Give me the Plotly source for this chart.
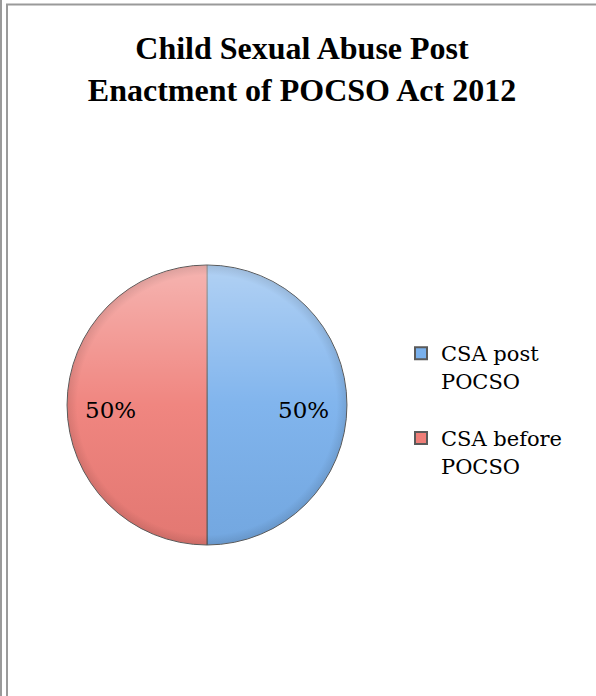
import math
import base64
import plotly.graph_objects as go

# Share of child sexual abuse cases before/after the POCSO Act
labels = ["CSA post<br>POCSO<br> ", "CSA before<br>POCSO<br> "]
values = [50, 50]
colors = ["#79b0ec", "#ef7e78"]

W, H = 596, 696

# pie geometry in pixels (centre and radius)
cx, cy, r = 207, 405, 140

fig = go.Figure(
    go.Pie(
        labels=labels,
        values=values,
        sort=False,
        direction="clockwise",
        rotation=0,
        marker=dict(colors=colors, line=dict(color="#5a5a5a", width=1)),
        textinfo="none",
        domain=dict(x=[(cx - r) / W, (cx + r) / W], y=[(H - cy - r) / H, (H - cy + r) / H]),
        hoverinfo="percent",
    )
)

# percentage labels placed at each slice's mid-angle
total = sum(values)
cum = 0
annotations = []
for v in values:
    theta = 2 * math.pi * (cum + v / 2) / total
    cum += v
    px = cx + 0.686 * r * math.sin(theta)
    py = cy - 0.686 * r * math.cos(theta) + 5
    annotations.append(dict(
        x=px / W, y=1 - py / H, xref="paper", yref="paper",
        text=f"{round(100 * v / total)}%", showarrow=False,
        xanchor="center", yanchor="middle",
        font=dict(family="DejaVu Serif", size=23, color="#000000"),
    ))

# soft vertical shading laid over the disc (light at top, darker at bottom)
shade_svg = (
    '<svg xmlns="http://www.w3.org/2000/svg" width="280" height="280" viewBox="0 0 280 280">'
    '<defs><linearGradient id="g" x1="0" y1="0" x2="0" y2="1">'
    '<stop offset="0" stop-color="#ffffff" stop-opacity="0.42"/>'
    '<stop offset="0.5" stop-color="#ffffff" stop-opacity="0.06"/>'
    '<stop offset="1" stop-color="#000000" stop-opacity="0.05"/>'
    '</linearGradient>'
    '<radialGradient id="e" cx="0.5" cy="0.5" r="0.5">'
    '<stop offset="0.93" stop-color="#000000" stop-opacity="0"/>'
    '<stop offset="1" stop-color="#000000" stop-opacity="0.10"/>'
    '</radialGradient></defs>'
    '<circle cx="140" cy="140" r="139.5" fill="url(#g)"/>'
    '<circle cx="140" cy="140" r="139.5" fill="url(#e)"/>'
    '</svg>'
)
shade_uri = "data:image/svg+xml;base64," + base64.b64encode(shade_svg.encode()).decode()

fig.update_layout(
    width=W,
    height=H,
    margin=dict(l=0, r=0, t=0, b=0),
    paper_bgcolor="white",
    plot_bgcolor="white",
    title=dict(
        text="<b>Child Sexual Abuse Post<br>Enactment of POCSO Act 2012</b>",
        x=302 / W,
        xanchor="center",
        y=1 - 59 / H,
        yanchor="top",
        font=dict(family="Liberation Serif", size=32, color="#000000"),
    ),
    legend=dict(
        x=401 / W,
        y=1 - 333 / H,
        xanchor="left",
        yanchor="top",
        valign="top",
        font=dict(family="DejaVu Serif", size=21, color="#000000"),
        itemsizing="constant",
        bgcolor="rgba(0,0,0,0)",
    ),
    annotations=annotations,
    images=[dict(
        source=shade_uri, xref="paper", yref="paper",
        x=(cx - r) / W, y=1 - (cy - r) / H, sizex=2 * r / W, sizey=2 * r / H,
        xanchor="left", yanchor="top", sizing="stretch", layer="above",
    )],
    shapes=[
        dict(type="line", xref="paper", yref="paper", x0=1 / W, x1=1 / W, y0=0, y1=1,
             line=dict(color="#9a9a9a", width=2), layer="above"),
        dict(type="line", xref="paper", yref="paper", x0=7 / W, x1=7 / W, y0=0, y1=1 - 4 / H,
             line=dict(color="#9a9a9a", width=2), layer="above"),
        dict(type="line", xref="paper", yref="paper", x0=6 / W, x1=1, y0=1 - 4.5 / H, y1=1 - 4.5 / H,
             line=dict(color="#9a9a9a", width=2), layer="above"),
    ],
)

fig.write_html("out.html")
